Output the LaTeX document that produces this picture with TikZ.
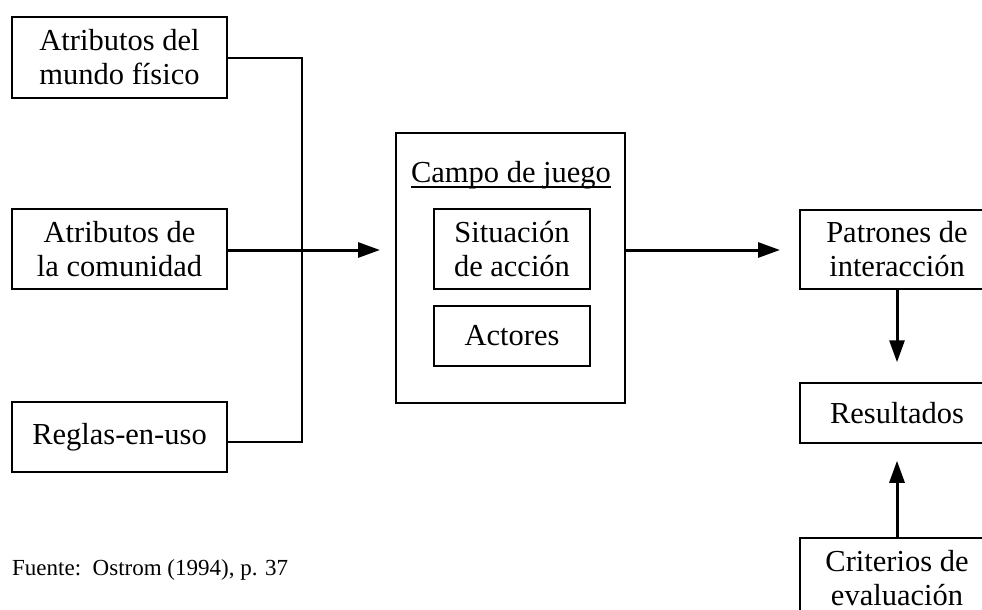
\documentclass[tikz,border=0pt]{standalone}
\usepackage{fontspec}
\setmainfont{Liberation Serif}
\usetikzlibrary{arrows.meta}
\begin{document}
\begin{tikzpicture}[x=1pt,y=-1pt,
  box/.style={draw, line width=1.5pt, inner sep=0pt, align=center,
    font=\fontsize{30.5}{34}\selectfont},
  thin/.style={line width=1.5pt},
  flow/.style={line width=3pt, -{Triangle[length=22pt,width=15pt]}}]
\useasboundingbox (0,0) rectangle (982,610);
\clip (0,0) rectangle (982,610);

% inputs on the left
\node[box, minimum width=215pt, minimum height=81pt] (fis) at (119.5,57.5) {Atributos del\\mundo físico};
\node[box, minimum width=215pt, minimum height=80pt] (com) at (119.5,249) {Atributos de\\la comunidad};
\node[box, minimum width=215pt, minimum height=70pt] (reg) at (119.5,437) {Reglas-en-uso};

% bracket joining the inputs
\coordinate (j1) at (302,58);
\coordinate (j3) at (302,442);
\draw[thin] (fis.east |- j1) -- (j1) -- (j3) -- (reg.east |- j3);

% action arena
\node[box, minimum width=229pt, minimum height=270pt] (arena) at (510.5,268) {};
\node[inner sep=0pt, font=\fontsize{30.5}{34}\selectfont, anchor=base] (campo) at (511,182) {Campo de juego};
\draw[line width=1.8pt] ([yshift=-5pt]campo.base west) -- ([yshift=-5pt]campo.base east);
\node[box, minimum width=156pt, minimum height=80pt] (sit) at (512,249) {Situación\\de acción};
\node[box, minimum width=156pt, minimum height=60pt] (act) at (512,336) {Actores};

% outcomes on the right
\node[box, minimum width=194pt, minimum height=79pt] (pat) at (897,249.5) {Patrones de\\interacción};
\node[box, minimum width=194pt, minimum height=60pt] (res) at (897,413) {Resultados};
\node[box, minimum width=194pt, minimum height=80pt] (cri) at (897,578) {Criterios de\\evaluación};

% flows
\coordinate (inTip) at (380,250);
\coordinate (outTip) at (780,250);
\draw[flow] (com.east |- inTip) -- (inTip);
\draw[flow] (arena.east |- outTip) -- (outTip);
\draw[flow] (pat.south) -- ([yshift=20pt]res.north);
\draw[flow] (cri.north) -- ([yshift=-17pt]res.south);

\node[anchor=base west, inner sep=0pt, font=\fontsize{23}{27}\selectfont] (src) at (12,575) {Fuente:\ \ Ostrom (1994), p. 37};
\end{tikzpicture}
\end{document}
